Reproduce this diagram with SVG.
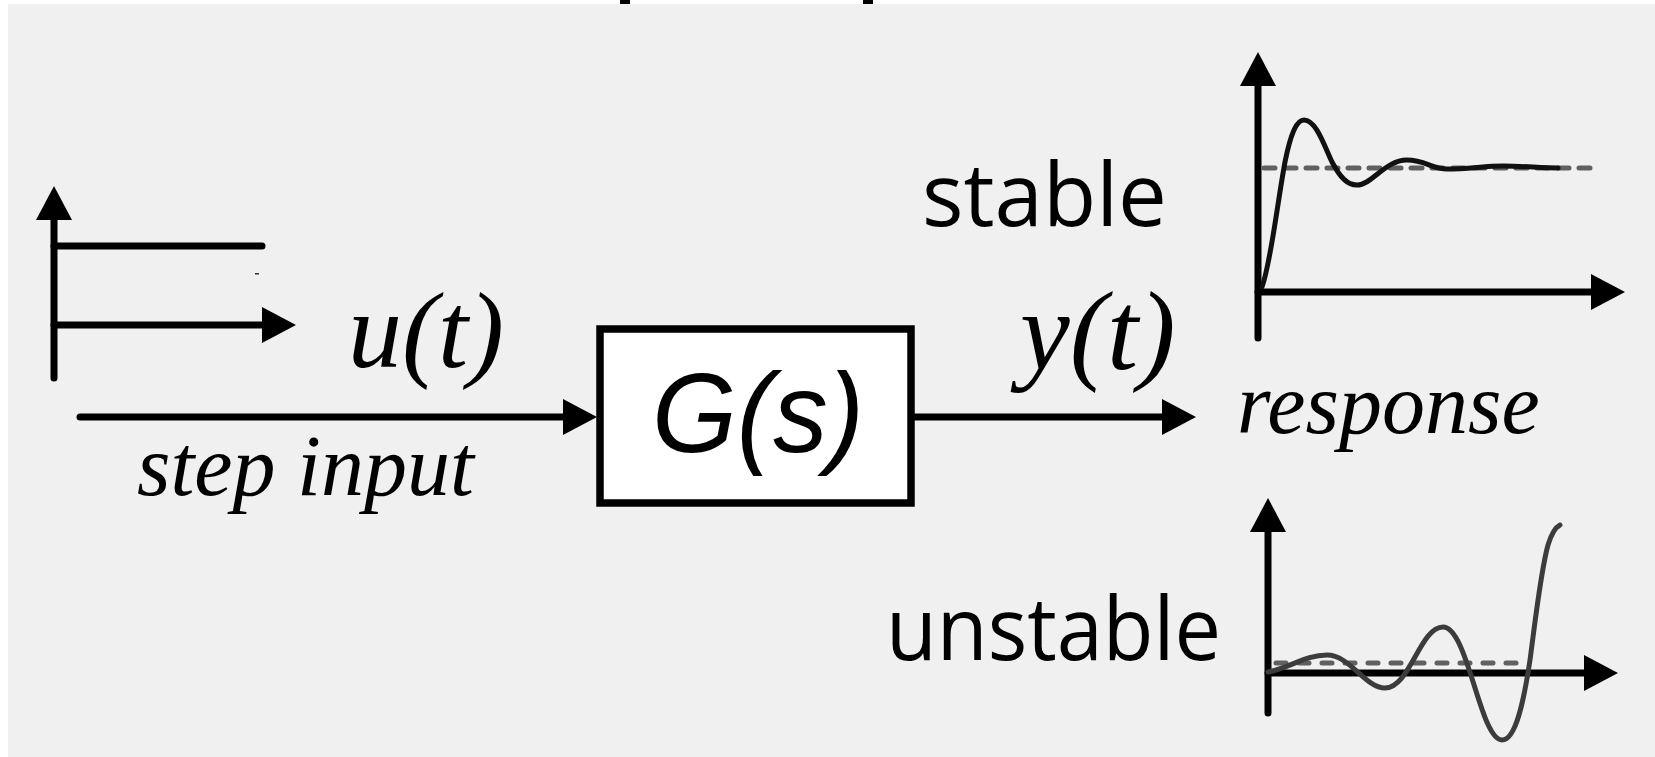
<svg xmlns="http://www.w3.org/2000/svg" width="1655" height="757" viewBox="0 0 1655 757">
  <style>
    .ax { stroke: #000; stroke-width: 7; fill: none; stroke-linecap: round; }
    .ital { font-family: 'Liberation Serif', 'Times New Roman', serif; font-style: italic; fill: #000; }
    .sans { font-family: 'Liberation Sans', Arial, sans-serif; font-style: italic; fill: #000; }
    .hand { font-family: 'Open Sans', 'DejaVu Sans', sans-serif; fill: #000; }
    .dash { stroke: #606060; stroke-width: 5; fill: none; stroke-linecap: round; }
  </style>
  <defs>
    <marker id="arr" markerUnits="userSpaceOnUse" markerWidth="34" markerHeight="36" viewBox="0 0 34 36" refX="0" refY="18" orient="auto">
      <path d="M0,0 L34,18 L0,36 Z" fill="#000"/>
    </marker>
  </defs>

  <g id="background">
    <rect x="0" y="0" width="1655" height="757" fill="#ffffff"/>
    <rect x="8" y="4" width="1647" height="753" fill="#f0f0f0"/>
    <rect x="620" y="0" width="10" height="4" fill="#000"/>
    <rect x="863" y="0" width="10" height="4" fill="#000"/>
  </g>

  <g id="step-plot">
    <line class="ax" x1="54" y1="378" x2="54" y2="220" marker-end="url(#arr)"/>
    <line class="ax" x1="54" y1="325" x2="262" y2="325" marker-end="url(#arr)"/>
    <line class="ax" x1="54" y1="246" x2="262" y2="246"/>
    <rect x="255" y="273" width="4" height="1.5" fill="#333"/>
  </g>

  <g id="input-label">
    <text class="ital" x="348" y="367" font-size="108">u(t)</text>
    <text class="ital" x="137" y="495" font-size="86">step input</text>
  </g>

  <g id="block">
    <rect x="600" y="329" width="311" height="174" fill="#ffffff" stroke="#000" stroke-width="7.5"/>
    <text class="sans" x="652" y="452" font-size="114" textLength="212" lengthAdjust="spacingAndGlyphs">G(s)</text>
  </g>

  <g id="output-label">
    <text class="ital" x="1020" y="369" font-size="112">y(t)</text>
    <text class="ital" x="1237" y="433" font-size="86">response</text>
  </g>

  <g id="connectors">
    <line class="ax" x1="80" y1="417" x2="563" y2="417" marker-end="url(#arr)"/>
    <line class="ax" x1="914" y1="417" x2="1162" y2="417" marker-end="url(#arr)" style="stroke-linecap:butt"/>
  </g>

  <g id="stable-plot">
    <text class="hand" x="922" y="226" font-size="88" textLength="245" lengthAdjust="spacingAndGlyphs">stable</text>
    <line class="ax" x1="1258" y1="338" x2="1258" y2="86" marker-end="url(#arr)"/>
    <line class="ax" x1="1258" y1="292" x2="1591" y2="292" marker-end="url(#arr)"/>
    <line class="dash" x1="1264" y1="168" x2="1594" y2="168" stroke-dasharray="11 10"/>
    <path d="M1262,287 C1271,262 1277,205 1285,162 C1291,132 1297,120 1304,120 C1316,120 1324,145 1332,162 C1340,177 1347,185 1357,185 C1372,185 1385,160 1407,160 C1425,160 1432,169 1447,169 C1468,169 1485,166 1503,166 C1525,166 1540,168 1558,168" fill="none" stroke="#111" stroke-width="5" stroke-linecap="round"/>
  </g>

  <g id="unstable-plot">
    <text class="hand" x="886" y="660" font-size="88" textLength="335" lengthAdjust="spacingAndGlyphs">unstable</text>
    <line class="ax" x1="1268" y1="713" x2="1268" y2="532" marker-end="url(#arr)"/>
    <line class="ax" x1="1268" y1="673" x2="1584" y2="673" marker-end="url(#arr)"/>
    <line class="dash" x1="1276" y1="663" x2="1525" y2="663" stroke-dasharray="10 13"/>
    <path d="M1268,672 C1290,668 1305,655 1327,655 C1350,655 1365,688 1385,688 C1410,688 1420,627 1443,627 C1468,627 1480,740 1502,740 C1516,740 1524,700 1530,660 C1536,615 1541,570 1548,545 C1552,532 1556,527 1560,525" fill="none" stroke="#3c3c3c" stroke-width="5" stroke-linecap="round"/>
  </g>
</svg>
